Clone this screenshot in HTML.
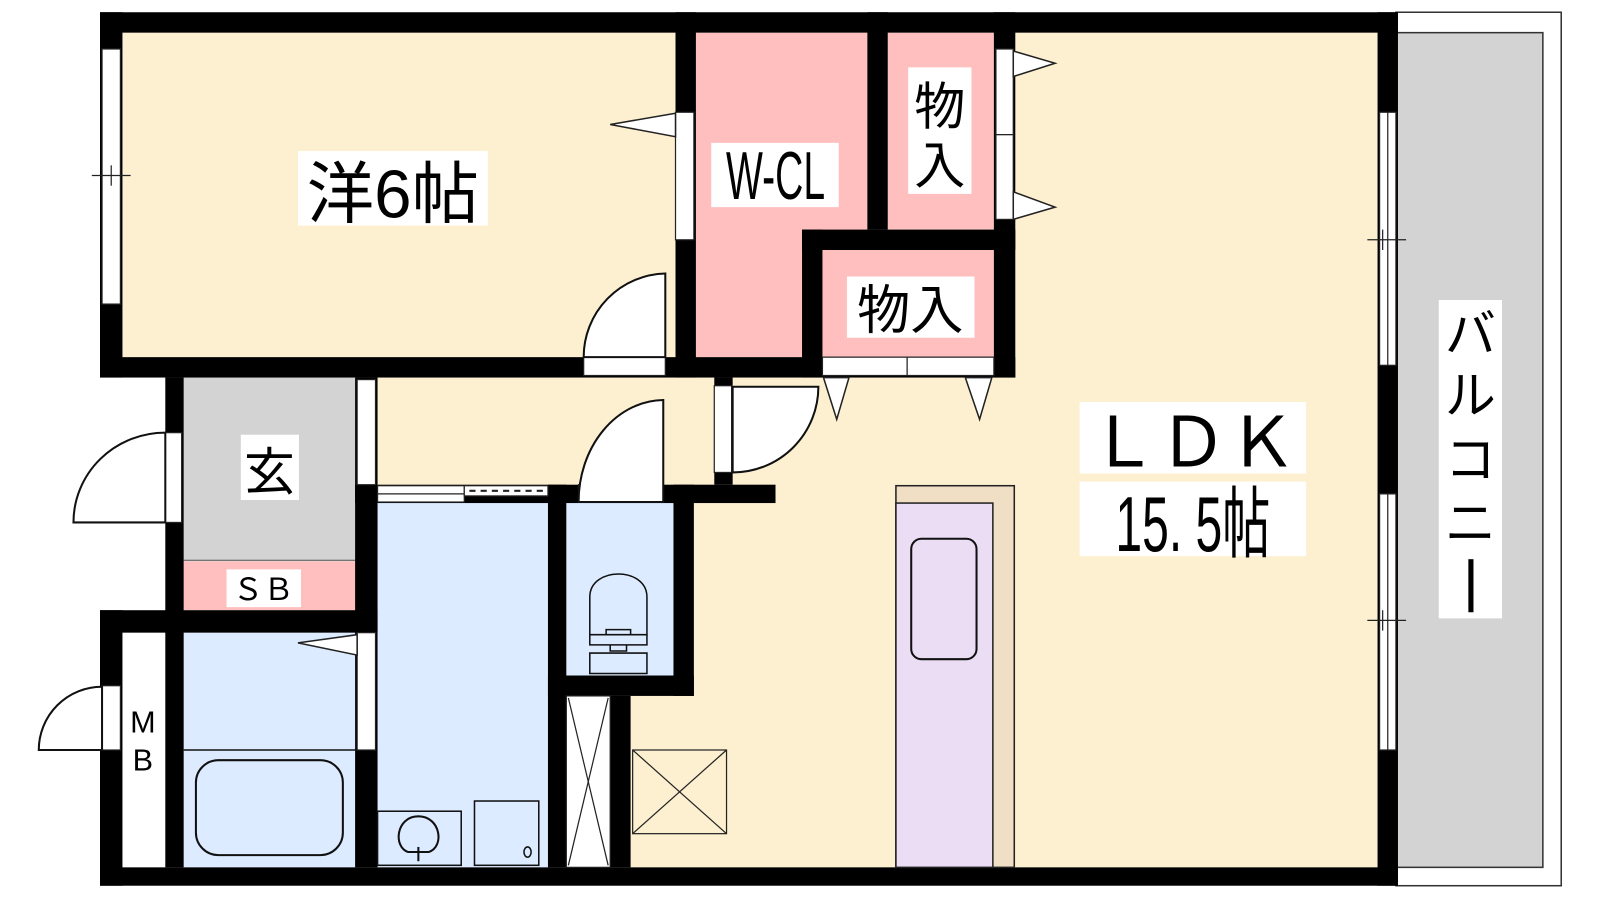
<!DOCTYPE html>
<html><head><meta charset="utf-8"><style>
html,body{margin:0;padding:0;background:#fff;}
svg{display:block;}
text{font-family:"Liberation Sans","Noto Sans CJK JP",sans-serif;fill:#000;}
</style></head><body>
<svg width="1600" height="900" viewBox="0 0 1568 882" preserveAspectRatio="none" xmlns="http://www.w3.org/2000/svg">
<rect x="0" y="0" width="1568" height="882" fill="#fff"/>
<rect x="1368" y="12" width="162" height="856" fill="#fff" stroke="#333" stroke-width="1.5"/>
<rect x="1368" y="32" width="144" height="818" fill="#d3d3d3" stroke="#333" stroke-width="1.5"/>
<g fill="#fdf0d0">
<rect x="120" y="32" width="542" height="318"/>
<rect x="995" y="32" width="355" height="818"/>
<rect x="680" y="370" width="670" height="480"/>
<rect x="618" y="682" width="70" height="168"/>
<rect x="370" y="370" width="330" height="105"/>
</g>
<g fill="#ffbfbf">
<rect x="682" y="32" width="168" height="318"/>
<rect x="870" y="32" width="104" height="193"/>
<rect x="806" y="245" width="168" height="105"/>
<rect x="180" y="550" width="168" height="48"/>
</g>
<rect x="180" y="370" width="168" height="180" fill="#d3d3d3"/>
<line x1="180" y1="549" x2="348" y2="549" stroke="#555" stroke-width="1"/>
<g fill="#dcebff">
<rect x="180" y="620" width="168" height="230"/>
<rect x="370" y="492" width="167" height="358"/>
<rect x="555" y="492" width="105" height="170"/>
</g>
<rect x="120" y="620" width="42" height="230" fill="#fff"/>
<g fill="#000">
<rect x="98" y="12" width="1272" height="20"/>
<rect x="98" y="12" width="22" height="358"/>
<rect x="98" y="350" width="897" height="20"/>
<rect x="662" y="12" width="20" height="358"/>
<rect x="850" y="12" width="20" height="213"/>
<rect x="974" y="12" width="21" height="358"/>
<rect x="786" y="225" width="209" height="20"/>
<rect x="786" y="225" width="20" height="145"/>
<rect x="162" y="370" width="18" height="480"/>
<rect x="348" y="370" width="22" height="480"/>
<rect x="98" y="598" width="272" height="22"/>
<rect x="98" y="598" width="22" height="270"/>
<rect x="348" y="475" width="412" height="18"/>
<rect x="537" y="475" width="18" height="375"/>
<rect x="660" y="475" width="20" height="207"/>
<rect x="537" y="662" width="143" height="20"/>
<rect x="598" y="682" width="20" height="168"/>
<rect x="700" y="370" width="18" height="105"/>
<rect x="1350" y="12" width="20" height="856"/>
<rect x="98" y="850" width="1272" height="18"/>
</g>
<g fill="#fff" stroke="#222" stroke-width="1.2">
<rect x="100" y="48" width="18" height="250"/>
<rect x="662" y="110" width="18" height="125"/>
<rect x="976" y="48" width="17" height="84"/><rect x="976" y="132" width="17" height="83"/>
<rect x="806" y="350" width="83" height="18"/><rect x="889" y="350" width="85" height="18"/>
<rect x="572" y="350" width="80" height="18"/>
<rect x="162" y="424" width="16" height="88"/>
<rect x="350" y="372" width="18" height="103"/>
<rect x="100" y="672" width="18" height="63"/>
<rect x="350" y="620" width="18" height="115"/>
<rect x="700" y="378" width="17" height="85"/>
<rect x="567" y="475" width="83" height="17"/>
<rect x="370" y="476" width="85" height="16"/>
<rect x="455" y="476" width="82" height="10"/>
<rect x="555" y="682" width="43" height="168"/>
<rect x="1352" y="110" width="16" height="248"/>
<rect x="1352" y="484" width="16" height="251"/>
</g>
<g stroke="#222" stroke-width="1.2" fill="none">
<line x1="370" y1="484" x2="455" y2="484"/>
<line x1="460" y1="481" x2="535" y2="481" stroke-dasharray="6,5" stroke-width="2"/>
<line x1="1360" y1="110" x2="1360" y2="358"/><line x1="1360" y1="484" x2="1360" y2="735"/>
<line x1="1340" y1="235" x2="1378" y2="235"/><line x1="1355" y1="225" x2="1355" y2="245"/>
<line x1="1340" y1="608" x2="1378" y2="608"/><line x1="1355" y1="598" x2="1355" y2="618"/>
<line x1="90" y1="172" x2="128" y2="172"/><line x1="109" y1="162" x2="109" y2="182"/>
<line x1="557" y1="684" x2="596" y2="848"/><line x1="596" y1="684" x2="557" y2="848"/>
<rect x="620" y="735" width="92" height="82" fill="#fdf0d0"/>
<line x1="620" y1="735" x2="712" y2="817"/><line x1="712" y1="735" x2="620" y2="817"/>
</g>
<g fill="#fff" stroke="#222" stroke-width="1.5">
<polygon points="662,111 598,122 662,134"/>
<polygon points="993,50 1034,62 993,75"/>
<polygon points="993,188 1034,203 993,215"/>
<polygon points="807,370 820,411 832,370"/>
<polygon points="946,370 960,411 972,370"/>
<polygon points="350,622 292,630 350,642"/>
</g>
<g fill="#fff" stroke="#111" stroke-width="2">
<path d="M652,350 L652,268 A82,82 0 0 0 572,350 Z"/>
<path d="M162,512 L72,512 A90,88 0 0 1 162,424 Z"/>
<path d="M100,735 L38,735 A62,62 0 0 1 100,673 Z"/>
<path d="M650,492 L650,392 A84,100 0 0 0 567,492 Z"/>
<path d="M718,379 L802,379 A84,84 0 0 1 718,463 Z"/>
</g>
<g fill="none" stroke="#111" stroke-width="2">
<line x1="180" y1="735" x2="348" y2="735" stroke-width="1.5"/>
<rect x="192" y="745" width="144" height="93" rx="22"/>
<rect x="370" y="795" width="82" height="53" stroke-width="1.5"/>
<path d="M400,835 C385,830 388,800 410,800 C432,800 436,830 420,835 Z"/>
<line x1="410" y1="830" x2="410" y2="844"/>
<rect x="465" y="785" width="63" height="63" stroke-width="1.5"/>
<ellipse cx="517" cy="835" rx="3.5" ry="5" stroke-width="1.5"/>
<path d="M578,622 L578,585 C578,555 634,555 634,585 L634,622 Z" stroke-width="1.5"/>
<path d="M578,622 L578,632 L634,632 L634,622 M594,622 L594,617 L618,617 L618,622 M598,632 L598,638 L614,638 L614,632 M578,640 L634,640 L634,660 L578,660 Z" stroke-width="1.5"/>
</g>
<rect x="878" y="476" width="116" height="374" fill="#f0dfc4" stroke="#222" stroke-width="1.5"/>
<rect x="878" y="493" width="95" height="357" fill="#ebddf3" stroke="#222" stroke-width="1.5"/>
<rect x="893" y="528" width="64" height="118" rx="10" fill="none" stroke="#111" stroke-width="2"/>
<g fill="#fff">
<rect x="292" y="148" width="186" height="73"/>
<rect x="697" y="140" width="125" height="63"/>
<rect x="890" y="66" width="62" height="124"/>
<rect x="830" y="271" width="125" height="60"/>
<rect x="236" y="426" width="57" height="64"/>
<rect x="222" y="558" width="73" height="37"/>
<rect x="1058" y="394" width="222" height="70"/>
<rect x="1058" y="472" width="222" height="73"/>
<rect x="1410" y="294" width="62" height="312"/>
</g>
<text x="385" y="213" font-size="66" text-anchor="middle">洋6帖</text>
<text x="760" y="195" font-size="66" text-anchor="middle" transform="translate(760,0) scale(0.58,1) translate(-760,0)">W-CL</text>
<text x="921" y="122" font-size="50" text-anchor="middle">物</text>
<text x="921" y="180" font-size="50" text-anchor="middle">入</text>
<text x="892" y="322" font-size="52" text-anchor="middle">物入</text>
<text x="264" y="480" font-size="50" text-anchor="middle">玄</text>
<text x="258" y="588" font-size="30" text-anchor="middle">ＳＢ</text>
<text x="140" y="718" font-size="30" text-anchor="middle">M</text>
<text x="140" y="755" font-size="30" text-anchor="middle">B</text>
<text x="1169" y="457" font-size="68" text-anchor="middle">ＬＤＫ</text>
<text x="1169" y="540" font-size="76" text-anchor="middle" transform="translate(1169,0) scale(0.62,1) translate(-1169,0)">15. 5帖</text>
<text x="1441" y="345" font-size="50" text-anchor="middle">バ</text>
<text x="1441" y="405" font-size="50" text-anchor="middle">ル</text>
<text x="1441" y="468" font-size="50" text-anchor="middle">コ</text>
<text x="1441" y="530" font-size="50" text-anchor="middle">ニ</text>
<rect x="1439" y="548" width="5" height="52" fill="#000"/>
</svg>
</body></html>
